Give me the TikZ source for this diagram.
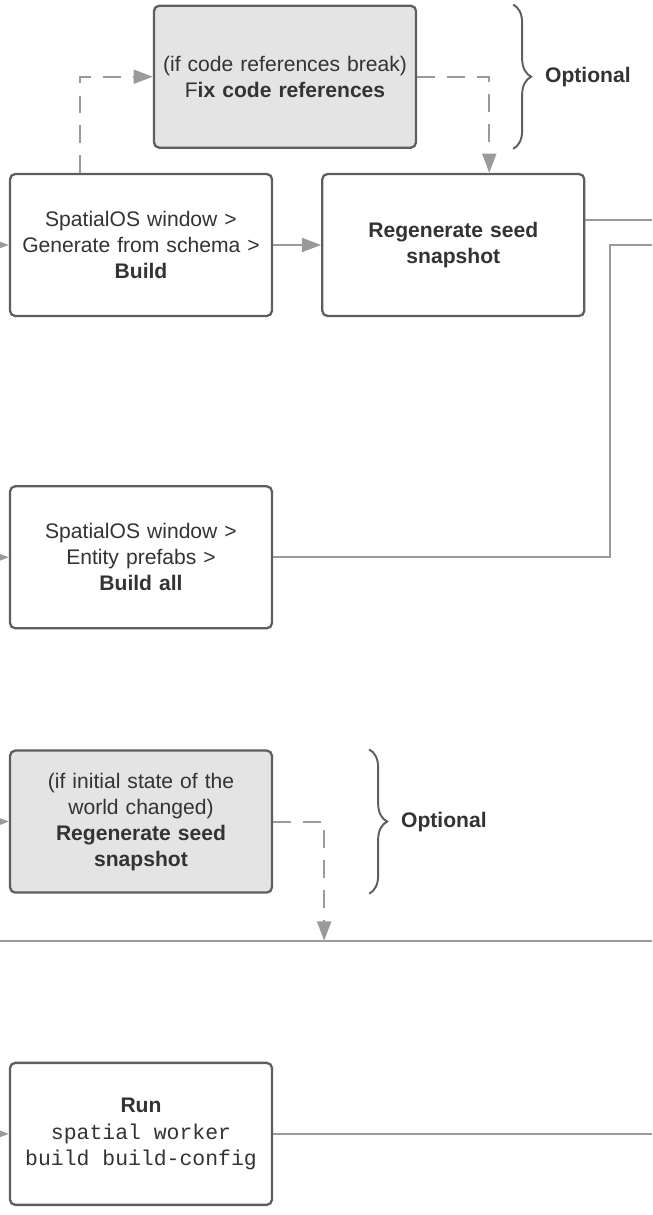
\documentclass[tikz,border=0pt]{standalone}
\usepackage{fontspec}
\setmainfont{Liberation Sans}
\setmonofont{Liberation Mono}
\usepackage{tikz}
\usetikzlibrary{arrows.meta, positioning, calc, decorations.pathreplacing}
\definecolor{boxstroke}{HTML}{5E5E5E}
\definecolor{optfill}  {HTML}{E4E4E4}
\definecolor{linegray} {HTML}{9A9A9A}
\definecolor{textgray} {HTML}{333333}
\tikzset{
  stepbox/.style={rectangle, rounded corners=3pt, minimum width=5.24cm,
    minimum height=2.84cm, align=center, text width=5.0cm,
    draw=boxstroke, line width=1.3pt, fill=white, text=textgray,
    font=\fontsize{12}{14.8}\selectfont},
  optbox/.style={fill=optfill},
  solidarr/.style={-{Triangle[length=11pt,width=8pt]}, line width=1.1pt, color=linegray},
  dasharr/.style={solidarr, dash pattern=on 10pt off 7pt},
  plainline/.style={line width=1.1pt, color=linegray},
  optbrace/.style={decorate, decoration={brace, amplitude=0.36cm},
    line width=1.1pt, color=boxstroke},
  optlabel/.style={font=\fontsize{12}{14.8}\selectfont\bfseries,
    text=textgray, inner sep=0pt}
}
\newcommand{\cli}[1]{{\ttfamily\fontsize{12.2}{14.2}\selectfont\spaceskip=0.6em\relax #1}}

\begin{document}
\begin{tikzpicture}

  \useasboundingbox (0,0) rectangle (13.04,-24.3);
  \coordinate (edgeL) at (0,0);
  \coordinate (edgeR) at (13.04,0);

  %% TOP ROW
  \node[stepbox] (build) at (2.82,-4.90)
    {SpatialOS window >\\Generate from schema >\\\textbf{Build}};

  \node[stepbox, right=0.96cm of build] (regen)
    {\textbf{Regenerate seed}\\\textbf{snapshot}};

  \node[stepbox, optbox, above=0.48cm of build, xshift=2.88cm] (fixrefs)
    {(if code references break)\\F\textbf{ix code references}};

  \draw[solidarr] (build.west -| edgeL) -- (build.west);
  \draw[solidarr] (build) -- (regen);
  \draw[dasharr] ([xshift=-1.22cm] build.north) |- (fixrefs.west);
  \draw[dasharr] (fixrefs.east) -| ([xshift=0.72cm] regen.north);

  \draw[optbrace]
    ([xshift=1.92cm] fixrefs.north east) -- ([xshift=1.92cm] fixrefs.south east)
    node[optlabel, midway, right=0.62cm] {Optional};

  \coordinate (regenout) at ([yshift=0.5cm] regen.east);
  \coordinate (bend) at ([xshift=0.5cm] regen.east);
  \draw[plainline] (regenout) -- (regenout -| edgeR);

  %% PREFABS
  \node[stepbox, below=3.36cm of build] (prefabs)
    {SpatialOS window >\\Entity prefabs >\\\textbf{Build all}};

  \draw[solidarr] (prefabs.west -| edgeL) -- (prefabs.west);
  \draw[plainline] (prefabs.east) -| (bend) -- (bend -| edgeR);

  %% OPTIONAL RESEED
  \node[stepbox, optbox, below=2.4cm of prefabs] (reseed)
    {(if initial state of the\\world changed)\\\textbf{Regenerate seed}\\\textbf{snapshot}};

  \draw[solidarr] (reseed.west -| edgeL) -- (reseed.west);

  \draw[optbrace]
    ([xshift=1.92cm] reseed.north east) -- ([xshift=1.92cm] reseed.south east)
    node[optlabel, midway, right=0.62cm] {Optional};

  \coordinate (bus) at ($(reseed.south) + (0, -0.94)$);
  \coordinate (drop) at ($(reseed.east) + (1.02, 0)$);
  \draw[plainline] (bus -| edgeL) -- (bus -| edgeR);
  \draw[dasharr] (reseed.east) -- (drop) -- (drop |- bus);

  %% WORKER BUILD
  \node[stepbox, below=3.36cm of reseed] (runbuild)
    {\textbf{Run}\\[1pt]\cli{spatial worker}\\\cli{build build-config}};

  \draw[solidarr] (runbuild.west -| edgeL) -- (runbuild.west);
  \draw[plainline] (runbuild.east) -- (runbuild.east -| edgeR);

\end{tikzpicture}
\end{document}
